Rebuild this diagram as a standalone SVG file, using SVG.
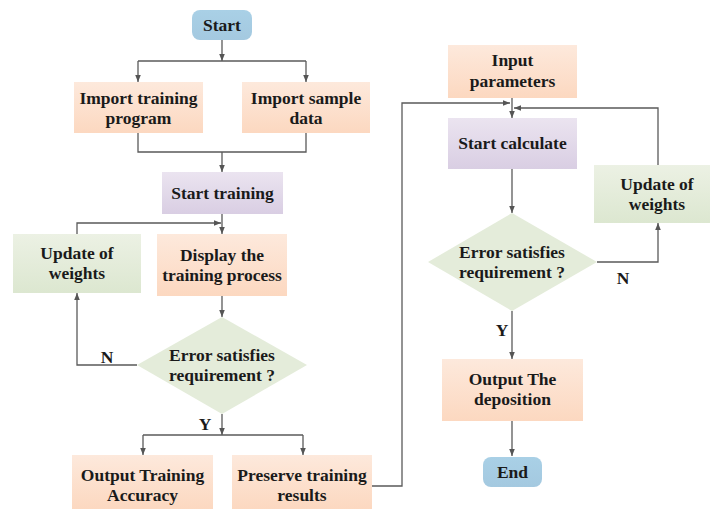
<svg xmlns="http://www.w3.org/2000/svg" width="710" height="511" viewBox="0 0 710 511">
<defs>
<linearGradient id="gBlue" x1="0" y1="0" x2="0" y2="1"><stop offset="0" stop-color="#a9d0e6"/><stop offset="1" stop-color="#a4c9e0"/></linearGradient>
<linearGradient id="gOrange" x1="0" y1="0" x2="0" y2="1"><stop offset="0" stop-color="#fde9dc"/><stop offset="1" stop-color="#fcd8c0"/></linearGradient>
<linearGradient id="gPurple" x1="0" y1="0" x2="0" y2="1"><stop offset="0" stop-color="#ebe4f0"/><stop offset="1" stop-color="#d9cee3"/></linearGradient>
<linearGradient id="gGreen" x1="0" y1="0" x2="0" y2="1"><stop offset="0" stop-color="#ecf1e4"/><stop offset="1" stop-color="#dce7d0"/></linearGradient>
<marker id="arr" viewBox="0 0 10 10" refX="10" refY="5" markerWidth="7" markerHeight="7" orient="auto" markerUnits="userSpaceOnUse"><path d="M0,1 L10,5 L0,9 z" fill="#555"/></marker>
</defs>
<style>
text{font-family:"Liberation Serif","Times New Roman",serif;font-weight:bold;font-size:17.5px;fill:#1a1a1a;text-anchor:middle}
.c{fill:none;stroke:#5a5a5a;stroke-width:1.3}
.a{marker-end:url(#arr)}
</style>
<rect width="710" height="511" fill="#fff"/>
<g id="connectors">
<path class="c a" d="M222,40 V61"/>
<path class="c" d="M138,61 H306"/>
<path class="c a" d="M138,61 V82"/>
<path class="c a" d="M306,61 V82"/>
<path class="c" d="M138,133 V152 H306 V133"/>
<path class="c a" d="M222,152 V172"/>
<path class="c a" d="M222,214 V234"/>
<path class="c a" d="M77,234 V223 H221"/>
<path class="c a" d="M222,296 V317"/>
<path class="c a" d="M137,365 H77 V293"/>
<path class="c a" d="M222,414 V435"/>
<path class="c" d="M143,435 H303"/>
<path class="c a" d="M143,435 V455"/>
<path class="c a" d="M303,435 V455"/>
<path class="c a" d="M372,486 H402 V103 H510"/>
<path class="c a" d="M512,98 V118"/>
<path class="c a" d="M658,165 V108 H514"/>
<path class="c a" d="M512,169 V213"/>
<path class="c a" d="M597,262 H658 V223"/>
<path class="c a" d="M512,311 V359"/>
<path class="c a" d="M512,421 V456"/>
</g>
<g id="start"><rect x="192" y="10" width="60" height="30" rx="8" fill="url(#gBlue)"/><text x="222" y="31">Start</text></g>
<g id="import-program"><rect x="74" y="82" width="129" height="51" fill="url(#gOrange)"/><text x="138.5" y="104">Import training</text><text x="138.5" y="124">program</text></g>
<g id="import-data"><rect x="242" y="82" width="128" height="51" fill="url(#gOrange)"/><text x="306" y="104">Import sample</text><text x="306" y="124">data</text></g>
<g id="start-training"><rect x="162" y="172" width="121" height="42" fill="url(#gPurple)"/><text x="222.5" y="199">Start training</text></g>
<g id="update-left"><rect x="13" y="234" width="128" height="59" fill="url(#gGreen)"/><text x="77" y="259">Update of</text><text x="77" y="279">weights</text></g>
<g id="display"><rect x="157" y="234" width="130" height="62" fill="url(#gOrange)"/><text x="222" y="261">Display the</text><text x="222" y="281">training process</text></g>
<g id="decision-left"><polygon points="222,317 307,365 222,414 137,365" fill="#e4ecda"/><text x="222" y="361">Error satisfies</text><text x="222" y="381">requirement ?</text></g>
<text x="107" y="363">N</text>
<text x="205" y="430">Y</text>
<g id="output-accuracy"><rect x="72" y="455" width="141" height="54" fill="url(#gOrange)"/><text x="142.5" y="481">Output Training</text><text x="142.5" y="501">Accuracy</text></g>
<g id="preserve"><rect x="232" y="455" width="140" height="54" fill="url(#gOrange)"/><text x="302" y="481">Preserve training</text><text x="302" y="501">results</text></g>
<g id="input-params"><rect x="448" y="45" width="129" height="53" fill="url(#gOrange)"/><text x="512.5" y="66">Input</text><text x="512.5" y="87">parameters</text></g>
<g id="start-calc"><rect x="448" y="118" width="129" height="51" fill="url(#gPurple)"/><text x="512.5" y="149">Start calculate</text></g>
<g id="update-right"><rect x="594" y="165" width="116" height="58" fill="url(#gGreen)"/><text x="657" y="190">Update of</text><text x="657" y="210">weights</text></g>
<g id="decision-right"><polygon points="512,213 597,262 512,311 428,262" fill="#e4ecda"/><text x="512" y="258">Error satisfies</text><text x="512" y="278">requirement ?</text></g>
<text x="623" y="284">N</text>
<text x="502" y="336">Y</text>
<g id="output-deposition"><rect x="442" y="359" width="141" height="62" fill="url(#gOrange)"/><text x="512.5" y="385">Output The</text><text x="512.5" y="405">deposition</text></g>
<g id="end"><rect x="483" y="457" width="59" height="30" rx="8" fill="url(#gBlue)"/><text x="512.5" y="478">End</text></g>
</svg>
